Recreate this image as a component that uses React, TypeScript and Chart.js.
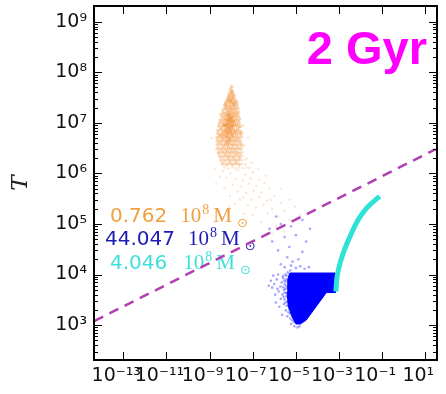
import React, { useEffect, useRef } from 'react';
import { Chart, registerables } from 'chart.js';

Chart.register(...registerables);

// ---- axes ----
const X_MIN = 4.4e-15;
const X_MAX = 34.7;
const Y_MIN = 204;
const Y_MAX = 2.04e9;
const X_TICK_EXP = [-13, -11, -9, -7, -5, -3, -1, 1];
const Y_TICK_EXP = [3, 4, 5, 6, 7, 8, 9];
const Y_AXIS_TITLE = 'T';
const PANEL_TITLE = '2 Gyr';

// ---- orange component (dense core) ----
const ORANGE_CORE: [number, number][] = [
  [9.6e-9, 4.6e7], [1.12e-8, 4.2e7], [1.05e-8, 5.2e7],
  [8.4e-9, 3.8e7], [1.04e-8, 4.0e7], [1.22e-8, 3.7e7],
  [7.4e-9, 3.3e7], [9.1e-9, 3.5e7], [1.13e-8, 3.2e7], [1.36e-8, 3.4e7],
  [6.7e-9, 2.9e7], [8.3e-9, 3.05e7], [1.0e-8, 2.85e7], [1.24e-8, 3.0e7], [1.52e-8, 2.8e7],
  [5.9e-9, 2.55e7], [7.3e-9, 2.65e7], [9.3e-9, 2.5e7], [1.1e-8, 2.6e7], [1.38e-8, 2.45e7], [1.72e-8, 2.6e7],
  [5.1e-9, 2.2e7], [6.4e-9, 2.1e7], [8.1e-9, 2.25e7], [9.7e-9, 2.05e7], [1.19e-8, 2.2e7], [1.48e-8, 2.12e7], [1.86e-8, 2.28e7],
  [4.5e-9, 1.85e7], [5.7e-9, 1.95e7], [7.2e-9, 1.8e7], [8.7e-9, 1.92e7], [1.06e-8, 1.78e7], [1.31e-8, 1.9e7], [1.62e-8, 1.82e7], [2.02e-8, 1.95e7],
  [4.1e-9, 1.6e7], [5.2e-9, 1.52e7], [6.6e-9, 1.65e7], [8.0e-9, 1.55e7], [9.9e-9, 1.62e7], [1.19e-8, 1.5e7], [1.46e-8, 1.6e7], [1.79e-8, 1.54e7], [2.2e-8, 1.63e7],
  [3.6e-9, 1.38e7], [4.8e-9, 1.3e7], [6.0e-9, 1.4e7], [7.4e-9, 1.33e7], [9.0e-9, 1.36e7], [1.1e-8, 1.28e7], [1.35e-8, 1.4e7], [1.68e-8, 1.32e7], [2.1e-8, 1.37e7],
  [3.2e-9, 1.13e7], [4.3e-9, 1.18e7], [5.5e-9, 1.1e7], [6.8e-9, 1.16e7], [8.3e-9, 1.12e7], [1.0e-8, 1.2e7], [1.26e-8, 1.1e7], [1.55e-8, 1.17e7], [1.98e-8, 1.12e7], [2.4e-8, 1.19e7],
  [2.95e-9, 9.8e6], [4.0e-9, 1.02e7], [5.0e-9, 9.5e6], [6.2e-9, 1.0e7], [7.6e-9, 9.6e6], [9.2e-9, 1.03e7], [1.15e-8, 9.7e6], [1.42e-8, 1.01e7], [1.8e-8, 9.4e6], [2.3e-8, 9.9e6],
  [2.7e-9, 8.6e6], [3.6e-9, 8.2e6], [4.6e-9, 8.8e6], [5.8e-9, 8.3e6], [7.0e-9, 8.7e6], [8.5e-9, 8.1e6], [1.05e-8, 8.6e6], [1.3e-8, 8.3e6], [1.65e-8, 8.8e6], [2.1e-8, 8.2e6], [2.7e-8, 8.5e6],
  [2.5e-9, 7.1e6], [3.3e-9, 7.4e6], [4.3e-9, 7.0e6], [5.4e-9, 7.3e6], [6.6e-9, 6.9e6], [8.0e-9, 7.3e6], [9.8e-9, 7.0e6], [1.2e-8, 7.4e6], [1.5e-8, 7.0e6], [1.95e-8, 7.2e6], [2.5e-8, 6.9e6],
  [2.4e-9, 6.2e6], [3.1e-9, 5.9e6], [4.0e-9, 6.3e6], [5.0e-9, 6.0e6], [6.2e-9, 6.2e6], [7.5e-9, 5.9e6], [9.2e-9, 6.3e6], [1.12e-8, 6.0e6], [1.4e-8, 6.2e6], [1.8e-8, 5.9e6], [2.4e-8, 6.1e6], [3.0e-8, 6.3e6],
  [2.3e-9, 5.1e6], [3.0e-9, 5.3e6], [3.8e-9, 5.0e6], [4.8e-9, 5.3e6], [5.9e-9, 5.1e6], [7.2e-9, 5.25e6], [8.8e-9, 5.0e6], [1.08e-8, 5.3e6], [1.35e-8, 5.1e6], [1.7e-8, 5.2e6], [2.2e-8, 5.0e6], [2.9e-8, 5.3e6],
  [2.3e-9, 4.4e6], [3.1e-9, 4.3e6], [4.0e-9, 4.5e6], [5.1e-9, 4.3e6], [6.3e-9, 4.5e6], [7.8e-9, 4.3e6], [9.5e-9, 4.4e6], [1.2e-8, 4.5e6], [1.5e-8, 4.3e6], [1.9e-8, 4.45e6], [2.6e-8, 4.3e6],
  [2.4e-9, 3.7e6], [3.3e-9, 3.8e6], [4.3e-9, 3.6e6], [5.5e-9, 3.75e6], [6.9e-9, 3.6e6], [8.6e-9, 3.8e6], [1.08e-8, 3.65e6], [1.35e-8, 3.75e6], [1.75e-8, 3.6e6], [2.3e-8, 3.8e6], [3.1e-8, 3.65e6],
  [2.5e-9, 3.1e6], [3.5e-9, 3.05e6], [4.6e-9, 3.15e6], [6.0e-9, 3.0e6], [7.6e-9, 3.2e6], [9.6e-9, 3.05e6], [1.22e-8, 3.15e6], [1.6e-8, 3.0e6], [2.1e-8, 3.15e6], [2.8e-8, 3.05e6],
  [2.7e-9, 2.6e6], [3.8e-9, 2.65e6], [5.0e-9, 2.55e6], [6.6e-9, 2.65e6], [8.5e-9, 2.55e6], [1.1e-8, 2.65e6], [1.45e-8, 2.55e6], [1.9e-8, 2.6e6], [2.6e-8, 2.5e6],
  [3.0e-9, 2.2e6], [4.3e-9, 2.15e6], [5.8e-9, 2.25e6], [7.6e-9, 2.15e6], [1.0e-8, 2.2e6], [1.35e-8, 2.15e6], [1.8e-8, 2.25e6], [2.5e-8, 2.15e6],
  [3.4e-9, 1.85e6], [5.0e-9, 1.8e6], [7.0e-9, 1.9e6], [9.4e-9, 1.8e6], [1.3e-8, 1.88e6], [1.75e-8, 1.8e6], [2.4e-8, 1.9e6],
  [4.0e-9, 1.55e6], [6.0e-9, 1.5e6], [8.5e-9, 1.58e6], [1.2e-8, 1.5e6], [1.7e-8, 1.57e6], [2.4e-8, 1.5e6],
  [6.0e-9, 1.2e7], [7.5e-9, 1.05e7], [9.0e-9, 1.25e7], [1.05e-8, 9.0e6], [8.0e-9, 8.0e6], [6.5e-9, 9.2e6], [9.5e-9, 6.6e6], [7.2e-9, 6.5e6],
  [1.15e-8, 1.3e7], [8.5e-9, 1.45e7], [6.8e-9, 7.7e6], [1.0e-8, 1.1e7], [5.6e-9, 8.8e6], [1.2e-8, 8.9e6], [7.8e-9, 1.18e7], [8.8e-9, 9.4e6],
  [6.1e-9, 5.6e6], [1.1e-8, 5.7e6], [8.2e-9, 4.8e6], [5.3e-9, 6.8e6], [9.9e-9, 7.8e6], [7.0e-9, 1.42e7], [1.25e-8, 1.07e7],
  [5.5e-9, 2.35e7], [8.9e-9, 2.75e7], [1.3e-8, 2.38e7], [4.4e-9, 9.0e6], [1.6e-8, 6.6e6], [3.8e-9, 5.7e6], [6.6e-9, 4.1e6],
];

// ---- orange component (sparse diffuse fan below the core) ----
const ORANGE_TAIL: [number, number][] = [
  [5.0e-9, 1.3e6], [7.5e-9, 1.25e6], [1.1e-8, 1.32e6], [1.6e-8, 1.26e6], [2.3e-8, 1.3e6], [3.4e-8, 1.27e6], [5.0e-8, 1.31e6],
  [3.3e-8, 1.56e6], [4.6e-8, 1.52e6], [3.3e-8, 1.82e6], [4.5e-8, 1.88e6], [3.4e-8, 2.2e6], [3.5e-8, 2.65e6],
  [4.2e-9, 1.1e6], [9.0e-9, 1.0e6], [2.1e-8, 1.15e6], [4.5e-8, 9.5e5], [1.0e-7, 1.05e6], [7.0e-8, 1.28e6],
  [3.0e-9, 8.5e5], [6.0e-9, 8.2e5], [1.6e-8, 7.8e5], [3.5e-8, 7.2e5], [8.0e-8, 8.0e5], [2.0e-7, 7.5e5],
  [2.0e-9, 6.2e5], [1.2e-8, 6.0e5], [2.8e-8, 5.5e5], [6.5e-8, 6.2e5], [1.5e-7, 5.6e5], [3.5e-7, 6.5e5],
  [5.0e-9, 5.2e5], [2.0e-8, 4.4e5], [5.0e-8, 4.1e5], [1.1e-7, 4.6e5], [2.6e-7, 4.2e5], [6.0e-7, 5.0e5],
  [9.0e-9, 3.6e5], [3.5e-8, 3.3e5], [8.5e-8, 3.0e5], [2.0e-7, 3.4e5], [4.5e-7, 2.9e5], [1.0e-6, 3.6e5],
  [1.5e-8, 2.5e5], [6.0e-8, 2.3e5], [1.4e-7, 2.1e5], [3.2e-7, 2.4e5], [8.0e-7, 2.0e5], [2.0e-6, 2.6e5],
  [4.0e-8, 1.6e5], [1.0e-7, 1.5e5], [5.0e-7, 1.6e5], [1.5e-6, 1.4e5], [3.0e-6, 1.8e5], [6.0e-9, 1.9e5],
  [2.5e-7, 1.1e5], [1.2e-6, 9.0e4], [5.0e-6, 1.2e5], [8.0e-7, 6.5e4], [3.0e-6, 7.0e4], [1.6e-5, 1.5e5],
  [2.5e-9, 2.5e6], [3.0e-9, 1.5e7], [2.0e-9, 3.0e6], [4.0e-8, 3.5e6], [5.5e-8, 2.0e6], [3.6e-8, 9.0e6],
  [1.7e-9, 1.2e6], [1.2e-9, 5.0e6], [6.0e-8, 5.0e6], [9.0e-8, 1.6e6], [2.5e-8, 3.0e5], [1.8e-7, 1.2e6],
  [4.0e-7, 9.0e5], [7.0e-7, 3.0e5], [2.0e-6, 5.0e5], [5.0e-6, 3.0e5], [9.0e-6, 2.2e5], [8.0e-9, 2.2e5],
];

// ---- blue component ----
const BLUE_CORE_OUTLINE: [number, number][] = [
  [5.2e-6, 1.07e4], [6.8e-4, 1.07e4], [6.8e-4, 4.4e3], [2.6e-4, 4.4e3],
  [3.0e-5, 1.25e3], [1.6e-5, 1.05e3], [1.0e-5, 1.05e3], [6.5e-6, 1.5e3],
  [4.4e-6, 2.4e3], [3.9e-6, 4.5e3], [4.2e-6, 8.0e3], [5.2e-6, 1.07e4],
];

const BLUE_HALO: [number, number][] = [
  [5.5e-6, 1.2e4], [4.2e-6, 1.1e4], [3.2e-6, 1.0e4], [5.0e-6, 9.0e3], [3.6e-6, 8.0e3], [2.6e-6, 8.5e3],
  [4.5e-6, 7.0e3], [3.0e-6, 6.4e3], [2.2e-6, 7.0e3], [4.0e-6, 5.5e3], [2.8e-6, 5.0e3], [1.9e-6, 5.8e3],
  [3.5e-6, 4.3e3], [2.4e-6, 4.0e3], [1.6e-6, 4.6e3], [4.5e-6, 3.5e3], [3.0e-6, 3.2e3], [2.0e-6, 3.3e3],
  [5.0e-6, 2.6e3], [3.8e-6, 2.4e3], [2.8e-6, 2.6e3], [6.0e-6, 2.0e3], [4.5e-6, 1.8e3], [3.4e-6, 1.95e3],
  [7.0e-6, 1.5e3], [5.5e-6, 1.35e3], [4.0e-6, 1.5e3], [8.0e-6, 1.15e3], [6.0e-6, 1.05e3], [1.0e-5, 1.25e3],
  [3.7e-6, 9.5e3], [3.3e-6, 7.2e3], [3.6e-6, 6.0e3], [3.3e-6, 5.2e3], [3.6e-6, 3.7e3], [3.9e-6, 2.9e3],
  [4.9e-6, 2.1e3], [5.4e-6, 1.7e3], [6.8e-6, 1.25e3], [8.5e-6, 9.5e2], [1.2e-5, 9.0e2], [1.5e-5, 9.5e2],
  [2.5e-6, 9.2e3], [2.9e-6, 7.6e3], [2.6e-6, 5.6e3], [3.0e-6, 4.4e3], [2.7e-6, 3.6e3], [3.3e-6, 2.8e3],
  [1.3e-6, 8.0e3], [1.0e-6, 6.5e3], [1.4e-6, 5.2e3], [8.0e-7, 5.5e3], [1.1e-6, 4.0e3], [7.0e-7, 7.5e3],
  [1.5e-6, 1.0e4], [9.0e-7, 9.5e3], [1.2e-6, 2.8e3], [5.5e-7, 6.0e3], [1.7e-6, 2.3e3], [2.3e-6, 1.6e3],
  [3.0e-6, 1.4e4], [6.0e-6, 1.5e4], [1.0e-5, 1.35e4], [1.6e-5, 1.45e4], [2.5e-5, 1.3e4], [4.0e-5, 1.4e4],
  [7.0e-6, 1.8e4], [2.0e-6, 1.6e4], [1.3e-5, 2.0e4], [4.0e-6, 2.2e4],
  [1.5e-6, 3.0e4], [5.0e-6, 3.5e4], [2.0e-5, 2.8e4], [8.0e-7, 4.5e4], [3.0e-6, 5.5e4], [1.0e-5, 6.0e4],
  [3.0e-5, 4.5e4], [6.0e-7, 8.0e4], [2.0e-6, 1.0e5], [6.0e-6, 9.0e4], [2.0e-5, 1.2e5], [1.2e-6, 1.4e5], [4.5e-5, 8.0e4],
];

// ---- cyan component ----
const CYAN_TRACK: [number, number][] = [
  [7.1e-4, 4.6e3], [7.5e-4, 6.2e3], [7.8e-4, 7.8e3], [9.3e-4, 1.23e4], [1.55e-3, 2.6e4],
  [3.2e-3, 5.6e4], [7.6e-3, 1.2e5], [1.86e-2, 2.04e5], [7.6e-2, 3.5e5],
];

// ---- dashed reference line ----
const REF_LINE: [number, number][] = [[4.5e-15, 1.2e3], [3.0e1, 3.0e6]];

// ---- annotation labels ----
const MASS_VALUES = ['0.762', '44.047', '4.046'];
const MASS_COLORS = ['#f0a040', '#1c1cb4', '#3fe0dc'];

const SUP: Record<string, string> = {
  '-': '\u207B', '0': '\u2070', '1': '\u00B9', '2': '\u00B2', '3': '\u00B3',
  '4': '\u2074', '5': '\u2075', '6': '\u2076', '7': '\u2077', '8': '\u2078', '9': '\u2079',
};
const pow10Label = (v: number) => {
  const e = Math.round(Math.log10(v));
  return '10' + String(e).split('').map((c) => SUP[c] || c).join('');
};
const toXY = (arr: [number, number][]) => arr.map(([x, y]) => ({ x, y }));

const framePlugin = {
  id: 'frameTicks',
  afterDraw(chart: any) {
    const { ctx, chartArea: a, scales } = chart;
    const xs = scales.x;
    const ys = scales.y;
    ctx.save();
    ctx.strokeStyle = '#000';
    ctx.lineWidth = 1;
    ctx.beginPath();
    for (let d = 2; d <= 9; d++) {
      for (let k = 1; k <= 9; k++) {
        const v = k * Math.pow(10, d);
        if (v < Y_MIN || v > Y_MAX) continue;
        const py = Math.round(ys.getPixelForValue(v)) + 0.5;
        const len = k === 1 ? 8 : 4;
        ctx.moveTo(a.left, py); ctx.lineTo(a.left + len, py);
        ctx.moveTo(a.right, py); ctx.lineTo(a.right - len, py);
      }
    }
    X_TICK_EXP.forEach((e) => {
      const px = Math.round(xs.getPixelForValue(Math.pow(10, e))) + 0.5;
      ctx.moveTo(px, a.bottom); ctx.lineTo(px, a.bottom - 8);
      ctx.moveTo(px, a.top); ctx.lineTo(px, a.top + 8);
    });
    ctx.stroke();
    ctx.lineWidth = 2;
    ctx.strokeRect(a.left, a.top, a.right - a.left, a.bottom - a.top);
    ctx.restore();
  },
};

const textPlugin = {
  id: 'panelText',
  beforeDatasetsDraw(chart: any) {
    const { ctx, chartArea: a } = chart;
    ctx.save();
    ctx.textBaseline = 'alphabetic';
    const starts = [16, 11, 16];
    const baselines = [216, 239, 263];
    const gaps = [13, 13, 16];
    MASS_VALUES.forEach((m, i) => {
      let x = a.left + starts[i];
      const by = a.top + baselines[i];
      ctx.fillStyle = MASS_COLORS[i];
      ctx.font = '20px "DejaVu Sans"';
      ctx.fillText(m, x, by);
      x += ctx.measureText(m).width + gaps[i];
      ctx.font = '21px "Liberation Serif"';
      ctx.fillText('10', x, by);
      x += ctx.measureText('10').width + 1;
      ctx.font = '14px "Liberation Serif"';
      ctx.fillText('8', x, by - 8);
      x += ctx.measureText('8').width + 4;
      ctx.font = '21px "Liberation Serif"';
      ctx.fillText('M', x, by);
      x += ctx.measureText('M').width + 5;
      ctx.font = '13px "DejaVu Sans"';
      ctx.fillText('\u2299', x, by + 5);
    });
    ctx.restore();
  },
  afterDatasetsDraw(chart: any) {
    const { ctx, chartArea: a } = chart;
    ctx.save();
    ctx.fillStyle = '#ff00ff';
    ctx.font = 'bold 47px "Liberation Sans"';
    ctx.textAlign = 'right';
    ctx.textBaseline = 'alphabetic';
    ctx.fillText(PANEL_TITLE, a.right - 10, a.top + 58);
    ctx.restore();
  },
};

export default function App() {
  const ref = useRef<HTMLCanvasElement>(null);
  useEffect(() => {
    const canvas = ref.current;
    if (!canvas) return;
    const chart = new Chart(canvas, {
      type: 'scatter',
      data: {
        datasets: [
          {
            data: toXY(REF_LINE),
            showLine: true,
            borderColor: '#b040b0',
            borderWidth: 2.5,
            borderDash: [10, 7],
            pointRadius: 0,
          },
          {
            data: toXY(CYAN_TRACK),
            showLine: true,
            borderColor: '#2ee2d6',
            borderWidth: 5,
            cubicInterpolationMode: 'monotone',
            pointRadius: 0,
          },
          {
            data: toXY(BLUE_CORE_OUTLINE),
            showLine: true,
            borderColor: '#0000ff',
            backgroundColor: '#0000ff',
            borderWidth: 1,
            fill: 'shape',
            pointRadius: 0,
          },
          {
            data: toXY(BLUE_HALO),
            pointRadius: 1.3,
            pointBorderWidth: 0,
            backgroundColor: 'rgba(30,30,255,0.4)',
          },
          {
            data: toXY(ORANGE_CORE),
            pointRadius: 1.9,
            pointBorderWidth: 0,
            backgroundColor: 'rgba(240,130,25,0.34)',
          },
          {
            data: toXY(ORANGE_TAIL),
            pointRadius: 1.2,
            pointBorderWidth: 0,
            backgroundColor: 'rgba(245,160,80,0.28)',
          },
        ] as any,
      },
      options: {
        animation: false,
        responsive: false,
        devicePixelRatio: 1,
        events: [],
        layout: { padding: { left: 0, top: 6, right: 9, bottom: 0 } },
        plugins: { legend: { display: false }, tooltip: { enabled: false } },
        scales: {
          x: {
            type: 'logarithmic',
            position: 'bottom',
            min: X_MIN,
            max: X_MAX,
            grid: { display: false, drawTicks: false },
            border: { display: false },
            afterBuildTicks: (s: any) => { s.ticks = X_TICK_EXP.map((e) => ({ value: Math.pow(10, e) })); },
            afterFit: (s: any) => { s.height = 34; s.paddingLeft = 0; s.paddingRight = 0; },
            ticks: {
              autoSkip: false,
              maxRotation: 0,
              minRotation: 0,
              padding: 5,
              labelOffset: -7,
              color: '#111',
              font: { family: '"DejaVu Sans", sans-serif', size: 19 },
              callback: (v: any) => pow10Label(Number(v)),
            },
          },
          y: {
            type: 'logarithmic',
            position: 'left',
            min: Y_MIN,
            max: Y_MAX,
            grid: { display: false, drawTicks: false },
            border: { display: false },
            afterBuildTicks: (s: any) => { s.ticks = Y_TICK_EXP.map((e) => ({ value: Math.pow(10, e) })); },
            afterFit: (s: any) => { s.width = 94; s.paddingTop = 0; s.paddingBottom = 0; },
            title: {
              display: true,
              text: Y_AXIS_TITLE,
              color: '#222',
              font: { family: '"DejaVu Serif", serif', style: 'italic', size: 23 },
              padding: { top: 7, bottom: 0 },
            },
            ticks: {
              autoSkip: false,
              padding: 7,
              color: '#111',
              font: { family: '"DejaVu Sans", sans-serif', size: 19 },
              callback: (v: any) => pow10Label(Number(v)),
            },
          },
        },
      } as any,
      plugins: [framePlugin, textPlugin],
    });
    return () => chart.destroy();
  }, []);
  return (
    <div style={{ position: 'fixed', left: 0, top: 0, width: 446, height: 394, background: '#fff' }}>
      <canvas ref={ref} width={446} height={394} style={{ display: 'block', width: 446, height: 394 }} />
    </div>
  );
}
